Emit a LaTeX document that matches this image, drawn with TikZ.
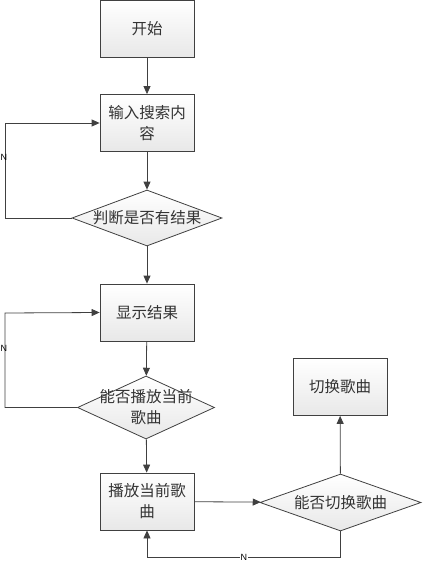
\documentclass[tikz,border=0pt]{standalone}
\usepackage{fontspec}
\newfontfamily\cjk{Noto Sans CJK SC}
\newfontfamily\lat{Liberation Sans}
\usetikzlibrary{arrows.meta,shapes.geometric}
\definecolor{ln}{HTML}{404040}
\tikzset{
  x=1pt,y=-1pt,
  boxnode/.style={draw=ln, line width=0.8pt, minimum width=94pt, minimum height=57pt, inner sep=0pt,
    top color=white, bottom color=gray!18, align=center, font=\cjk\fontsize{15.5}{21}\selectfont, text=black!80},
  dianode/.style={draw=ln, line width=0.8pt, diamond, inner sep=0pt, top color=white, bottom color=gray!18},
  dtext/.style={align=center, font=\cjk\fontsize{15.5}{21}\selectfont, text=black!80, inner sep=0pt},
  conn/.style={draw=ln, line width=0.8pt, -{Triangle[length=8pt,width=7pt]}},
  nlab/.style={font=\lat\fontsize{9}{10}\selectfont, text=black, inner sep=1pt}
}
\begin{document}
\begin{tikzpicture}
\useasboundingbox (0,0) rectangle (423,567);
\node[boxnode] (b1) at (147,28.5) {开始};
\node[boxnode] (b2) at (147,123) {输入搜索内\\容};
\node[dianode, minimum width=150pt, minimum height=56pt] (d1) at (147,218) {};
\node[dtext] (t1) at (d1.center) {判断是否有结果};
\node[boxnode] (b3) at (147,312.5) {显示结果};
\node[dianode, minimum width=137pt, minimum height=63pt] (d2) at (146,407.5) {};
\node[dtext] (t2) at (d2.center) {能否播放当前\\歌曲};
\node[boxnode] (b4) at (147,501.5) {播放当前歌\\曲};
\node[boxnode] (b5) at (340,387) {切换歌曲};
\node[dianode, minimum width=161pt, minimum height=57pt] (d3) at (340.5,502.5) {};
\node[dtext] (t3) at (d3.center) {能否切换歌曲};
\coordinate (c1) at (5,218);
\coordinate (c2) at (5,123);
\coordinate (c3) at (5,407.5);
\coordinate (c4) at (5,313);
\coordinate (c5) at (340.5,557);
\coordinate (c6) at (147,557);
\path[conn] (b1) -- (b2);
\path[conn] (b2) -- (d1);
\path[conn] (d1) -- (b3);
\path[conn] (b3) -- (d2);
\path[conn] (d2) -- (b4);
\path[conn] (b4) -- (d3);
\path[conn] (d3) -- (b5);
\path[conn] (d1.west) -- (c1) -- (c2) -- (b2.west);
\path[conn] (d2.west) -- (c3) -- (c4) -- (b3.west);
\path[conn] (d3.south) -- (c5) -- node[nlab, fill=white, pos=0.5] (n3) {N} (c6) -- (b4.south);
\node[nlab] (n1) at (4,157) {N};
\node[nlab] (n2) at (4,348) {N};
\end{tikzpicture}
\end{document}
